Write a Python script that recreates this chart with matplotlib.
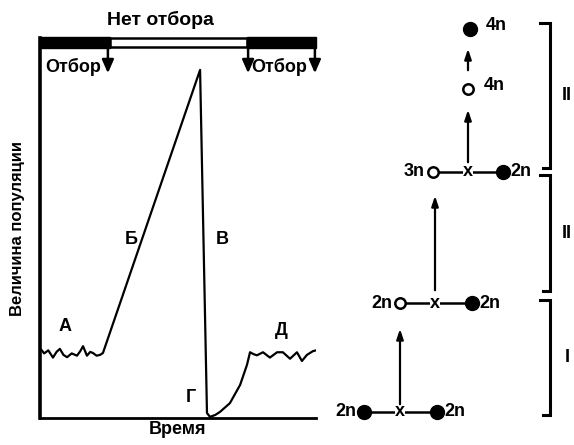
import matplotlib.pyplot as plt
from matplotlib.patches import Rectangle

plt.rcParams['font.family'] = ['Liberation Sans', 'DejaVu Sans']
plt.rcParams['font.weight'] = 'bold'
plt.rcParams['axes.labelweight'] = 'bold'

# population curve (time 0..100, population 0..100)
time = [0, 1.5, 3, 4.7, 6, 7.2, 8.5, 9.8, 11.5, 13.4, 14.6, 15.6, 17.0, 18.2, 19.2, 20.5, 21.7, 22.8,
        58.0, 60.5, 61.6, 63.5, 65.2, 68.8, 72.5, 75.0, 76.1, 77.4, 78.6, 80.8, 83.3, 85.9, 88.0,
        90.6, 93.1, 94.9, 96.7, 98.9, 100]
population = [18.4, 17.0, 17.8, 15.9, 17.4, 18.2, 16.6, 16.0, 17.0, 16.4, 17.6, 18.9, 16.4, 17.4, 17.1,
              16.4, 16.6, 17.1,
              91.6, 1.3, 0.3, 0.8, 1.6, 3.9, 8.7, 14.0, 17.3, 16.8, 16.5, 17.3, 15.9, 17.3, 17.3,
              15.6, 17.3, 15.0, 16.6, 17.6, 17.8]
phase_labels = ['А', 'Б', 'В', 'Г', 'Д']
phase_pos = [(9, 24), (33, 47), (66, 47), (54.5, 5.5), (87.5, 23)]

# selection regimes along the top bar
regimes = [(0, 25.4, 'sel'), (25.4, 75.0, 'none'), (75.0, 100, 'sel')]
selection_arrows = [24.6, 75.4, 99.6]

# chromosome scheme (pixel layout of the right panel)
rows = [
    # (y, left label, left marker, right marker, right label, xl, xx, xr)
    (412, '2n', 'filled', 'filled', '2n', 364, 400, 437),
    (303, '2n', 'open', 'filled', '2n', 400, 435, 472),
    (172, '3n', 'open', 'filled', '2n', 433, 468, 503),
]
arrows_scheme = [(400, 407, 326), (435, 293, 193), (468, 165, 107), (468, 73, 46)]
singles = [(468, 89, 'open', '4n'), (470, 29, 'filled', '4n')]
brackets = [(23, 168, 'II'), (175, 291, 'II'), (300, 415, 'I')]

W, H = 574, 445
fig = plt.figure(figsize=(W / 100, H / 100), dpi=100)

# --- left: population curve
x0, x1, ybot, ytop = 40, 316, 418, 38
ax = fig.add_axes([x0 / W, (H - ybot) / H, (x1 - x0) / W, (ybot - ytop) / H])
ax.plot(time, population, color='black', lw=1.6)
ax.set_xlim(0, 100)
ax.set_ylim(0, 100)
ax.set_xticks([])
ax.set_yticks([])
for s in ['top', 'right']:
    ax.spines[s].set_visible(False)
ax.spines['left'].set_linewidth(2.6)
ax.spines['bottom'].set_linewidth(2.0)
ax.set_xlabel('Время', fontsize=13, labelpad=2)
ax.set_ylabel('Величина популяции', fontsize=12, labelpad=11)

for a, b, kind in regimes:
    if kind == 'sel':
        ax.add_patch(Rectangle((a, 97.3), b - a, 2.9, facecolor='black', edgecolor='black', clip_on=False))
    else:
        ax.add_patch(Rectangle((a, 97.6), b - a, 2.4, facecolor='white', edgecolor='black', lw=1.8, clip_on=False))
ax.text(43.5, 104.8, 'Нет отбора', fontsize=14, ha='center', va='center')
ax.text(1.8, 92.3, 'Отбор', fontsize=13, ha='left', va='center')
ax.text(76.6, 92.3, 'Отбор', fontsize=13, ha='left', va='center')
for t in selection_arrows:
    ax.annotate('', xy=(t, 90.0), xytext=(t, 98),
                arrowprops=dict(arrowstyle='-|>,head_length=0.8,head_width=0.35', color='black', lw=1.8),
                annotation_clip=False)
for lab, (tx, py) in zip(phase_labels, phase_pos):
    ax.text(tx, py, lab, fontsize=13, ha='center', va='center')

# --- right: chromosome scheme
ov = fig.add_axes([0, 0, 1, 1], facecolor='none')
ov.set_xlim(0, W)
ov.set_ylim(H, 0)
ov.axis('off')


def node(x, y, kind):
    if kind == 'filled':
        ov.plot(x, y, 'o', ms=10, color='black', zorder=3)
    else:
        ov.plot(x, y, 'o', ms=7.5, mfc='white', mec='black', mew=1.8, zorder=3)


for y, ll, lk, rk, rl, xl, xx, xr in rows:
    ov.plot([xl, xr], [y, y], color='black', lw=1.8, zorder=1)
    node(xl, y, lk)
    node(xr, y, rk)
    ov.text(xx, y, 'x', fontsize=13, ha='center', va='center',
            bbox=dict(facecolor='white', edgecolor='none', pad=0.2), zorder=2)
    ov.text(xl - 8, y, ll, fontsize=13, ha='right', va='center')
    ov.text(xr + 7, y, rl, fontsize=13, ha='left', va='center')

for x, ya, yb in arrows_scheme:
    ov.annotate('', xy=(x, yb), xytext=(x, ya),
                arrowprops=dict(arrowstyle='-|>,head_length=0.6,head_width=0.2', color='black', lw=1.6))

for x, y, kind, lab in singles:
    node(x, y, kind)
    ov.text(x + 16, y - 3, lab, fontsize=13, ha='left', va='center')

for ya, yb, lab in brackets:
    ov.plot([540, 550, 550, 543], [ya, ya, yb, yb], color='black', lw=2.2, solid_joinstyle='miter')
    ov.text(567, (ya + yb) / 2, lab, fontsize=13, ha='center', va='center')

fig.savefig('out.png', dpi=100)
